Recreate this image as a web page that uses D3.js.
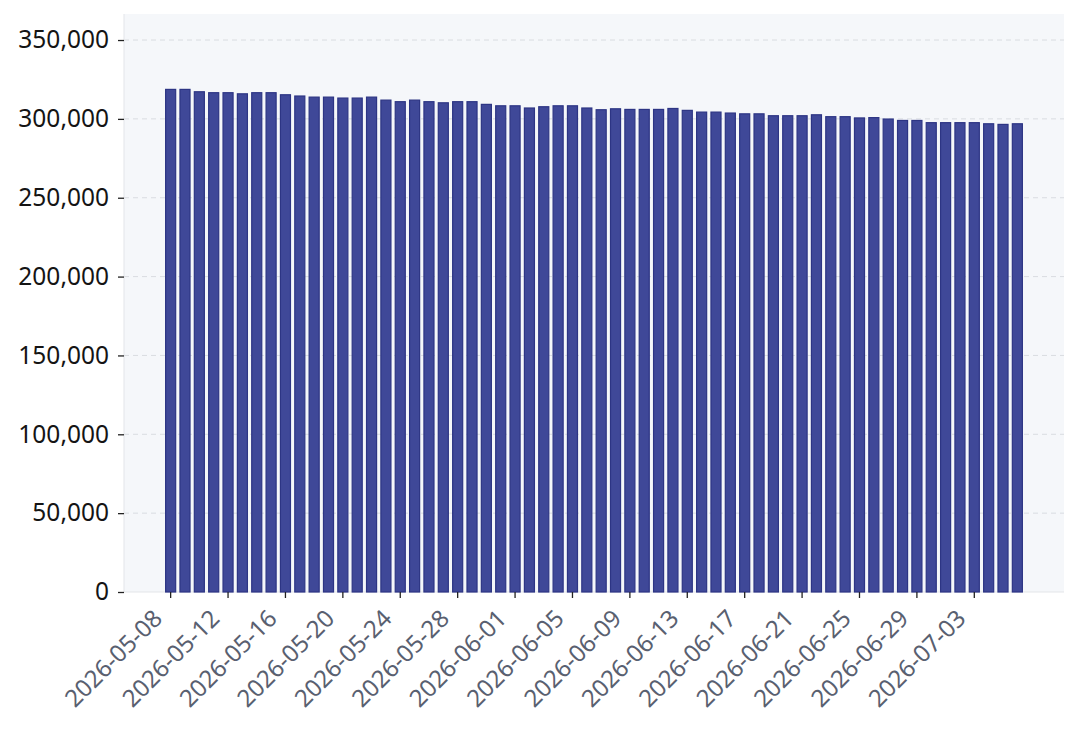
<html>
<head>
<meta charset="utf-8">
<script src="https://d3js.org/d3.v7.min.js"></script>
<style>
  body { margin: 0; background: #ffffff; }
  text { font-family: "Noto Sans", "Open Sans", sans-serif; }
</style>
</head>
<body>
<script>
    // daily dates shown on the x axis
    const dates = [
      "2026-05-08","2026-05-09","2026-05-10","2026-05-11","2026-05-12","2026-05-13","2026-05-14","2026-05-15",
      "2026-05-16","2026-05-17","2026-05-18","2026-05-19","2026-05-20","2026-05-21","2026-05-22","2026-05-23",
      "2026-05-24","2026-05-25","2026-05-26","2026-05-27","2026-05-28","2026-05-29","2026-05-30","2026-05-31",
      "2026-06-01","2026-06-02","2026-06-03","2026-06-04","2026-06-05","2026-06-06","2026-06-07","2026-06-08",
      "2026-06-09","2026-06-10","2026-06-11","2026-06-12","2026-06-13","2026-06-14","2026-06-15","2026-06-16",
      "2026-06-17","2026-06-18","2026-06-19","2026-06-20","2026-06-21","2026-06-22","2026-06-23","2026-06-24",
      "2026-06-25","2026-06-26","2026-06-27","2026-06-28","2026-06-29","2026-06-30","2026-07-01","2026-07-02",
      "2026-07-03","2026-07-04","2026-07-05","2026-07-06"
    ];

    const values = [
      318700, 318700, 317200, 316600, 316600, 315900, 316600, 316600,
      315300, 314500, 313800, 313800, 313200, 313200, 313800, 311900,
      310900, 311900, 310900, 310200, 310900, 310900, 309200, 308300,
      308300, 306900, 307700, 308300, 308300, 306900, 305800, 306400,
      306000, 306000, 306000, 306600, 305400, 304300, 304300, 303700,
      303200, 303200, 302000, 302000, 302000, 302600, 301400, 301400,
      300600, 300800, 299900, 299000, 299000, 297600, 297600, 297600,
      297600, 296900, 296500, 296900
    ];

    const yTicks = [0, 50000, 100000, 150000, 200000, 250000, 300000, 350000];

    const W = 1080, H = 735;
    const margin = {top: 14, right: 16, bottom: 143, left: 124};
    const iw = W - margin.left - margin.right;
    const ih = H - margin.top - margin.bottom;

    var svg = d3.select("body").append("svg")
                .attr("width", W)
                .attr("height", H);

    var g = svg.append("g").attr("transform", `translate(${margin.left},${margin.top})`);

    // plot background
    g.append("rect")
      .attr("width", iw).attr("height", ih)
      .attr("fill", "#f5f7fa");

    var x = d3.scaleBand()
      .domain(dates)
      .range([0, iw])
      .paddingInner(0.3)
      .paddingOuter(2.9);

    var y = d3.scaleLinear()
      .domain([0, d3.max(values) * 1.15])
      .range([ih, 0]);

    // dashed grid
    g.selectAll(".grid")
      .data(yTicks.filter(d => d > 0))
      .enter().append("line")
      .attr("x1", 0).attr("x2", iw)
      .attr("y1", d => y(d)).attr("y2", d => y(d))
      .attr("stroke", "#d9dce1")
      .attr("stroke-width", 1)
      .attr("stroke-dasharray", "5,4");

    // frame lines left + bottom
    g.append("line").attr("x1", 0).attr("x2", 0).attr("y1", 0).attr("y2", ih)
      .attr("stroke", "#e3e5e9");
    g.append("line").attr("x1", 0).attr("x2", iw).attr("y1", ih).attr("y2", ih)
      .attr("stroke", "#e3e5e9");

    // bars
    g.selectAll(".bar")
      .data(values)
      .enter().append("rect")
      .attr("x", (d, i) => x(dates[i]))
      .attr("y", d => y(d))
      .attr("width", x.bandwidth())
      .attr("height", d => ih - y(d))
      .attr("fill", "#3f4898")
      .attr("stroke", "#2d3584")
      .attr("stroke-width", 1.2);

    // y axis
    var yAxis = g.append("g")
      .call(d3.axisLeft(y).tickValues(yTicks).tickSize(6).tickPadding(9).tickFormat(d3.format(",")));
    yAxis.select(".domain").remove();
    yAxis.selectAll(".tick line").attr("stroke", "#222").attr("stroke-width", 1.3);
    yAxis.selectAll("text").attr("fill", "#141414").style("font-size", "24.5px");

    // x axis, label every 4th day
    var xAxis = g.append("g")
      .attr("transform", `translate(0,${ih})`)
      .call(d3.axisBottom(x).tickValues(dates.filter((d, i) => i % 4 === 0)).tickSize(6).tickPadding(4));
    xAxis.select(".domain").remove();
    xAxis.selectAll(".tick line").attr("stroke", "#222").attr("stroke-width", 1.3);
    xAxis.selectAll("text")
      .attr("fill", "#596070")
      .style("font-size", "24px")
      .attr("text-anchor", "end")
      .attr("x", 0).attr("y", 0).attr("dy", 0)
      .attr("transform", "translate(-7,28) rotate(-45)");

</script>
</body>
</html>
